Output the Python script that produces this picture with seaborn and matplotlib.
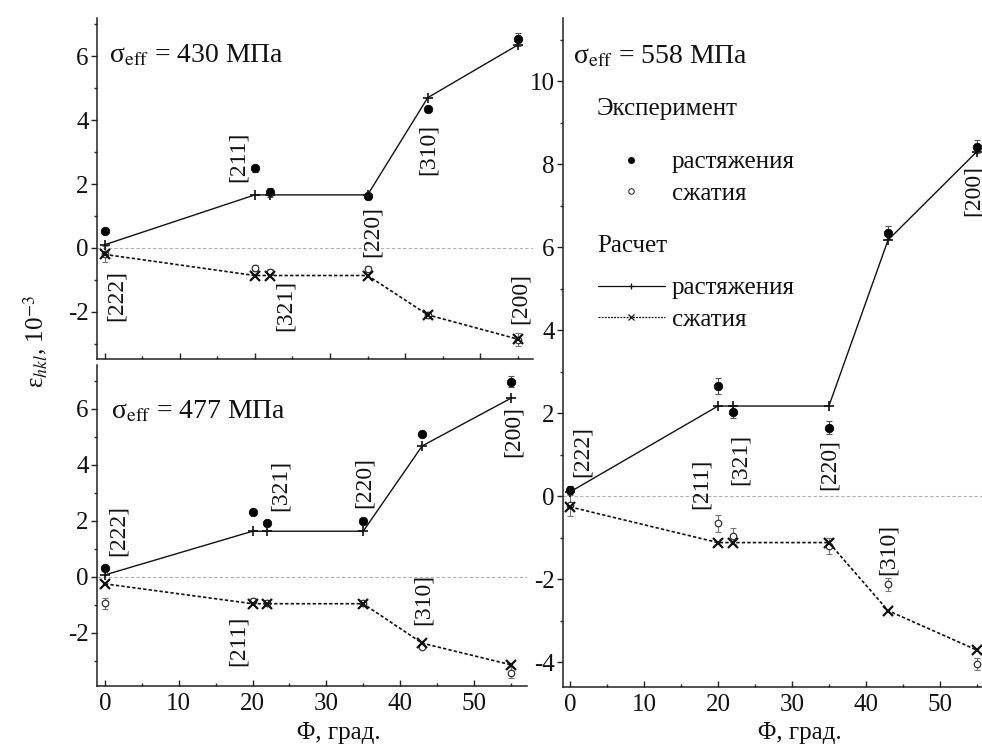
import matplotlib
matplotlib.use("Agg")
import matplotlib.pyplot as plt
from matplotlib.lines import Line2D
from matplotlib.ticker import MultipleLocator
import seaborn as sns

# Crystallographic directions and their angle to the load axis
phi = [0, 20, 22, 35, 43, 55]
hkl = ["[222]", "[211]", "[321]", "[220]", "[310]", "[200]"]

# sigma_eff = 430 MPa
exp_tension_430 = [0.53, 2.49, 1.74, 1.62, 4.34, 6.52]
exp_tension_err_430 = [0.10, 0.10, 0.15, 0.10, 0.10, 0.20]
exp_compr_430 = [-0.20, -0.63, -0.75, -0.66, -2.10, -2.87]
exp_compr_err_430 = [0.25, 0.10, 0.10, 0.10, 0.10, 0.20]
calc_tension_430 = [0.10, 1.66, 1.66, 1.66, 4.70, 6.35]
calc_compr_430 = [-0.20, -0.86, -0.86, -0.86, -2.09, -2.85]

# sigma_eff = 477 MPa
exp_tension_477 = [0.33, 2.31, 1.92, 2.00, 5.10, 6.98]
exp_tension_err_477 = [0.10, 0.10, 0.10, 0.10, 0.10, 0.20]
exp_compr_477 = [-0.94, -0.85, -0.94, -0.95, -2.49, -3.42]
exp_compr_err_477 = [0.20, 0.10, 0.10, 0.10, 0.10, 0.20]
calc_tension_477 = [0.07, 1.63, 1.63, 1.63, 4.68, 6.38]
calc_compr_477 = [-0.25, -0.96, -0.96, -0.96, -2.37, -3.14]

# sigma_eff = 558 MPa
exp_tension_558 = [0.14, 2.65, 2.03, 1.65, 6.35, 8.42]
exp_tension_err_558 = [0.10, 0.20, 0.15, 0.15, 0.15, 0.15]
exp_compr_558 = [-0.22, -0.66, -0.96, -1.20, -2.13, -4.05]
exp_compr_err_558 = [0.25, 0.20, 0.20, 0.20, 0.15, 0.15]
calc_tension_558 = [0.10, 2.17, 2.17, 2.17, 6.17, 8.30]
calc_compr_558 = [-0.26, -1.12, -1.12, -1.12, -2.76, -3.71]

stress_labels = ["430", "477", "558"]

SERIF = "Liberation Serif"
INK = "#111111"

sns.set_theme(style="ticks")
plt.rcParams.update({
    "font.family": [SERIF, "DejaVu Serif"],
    "mathtext.fontset": "stix",
    "axes.unicode_minus": False,
    "axes.linewidth": 1.1,
    "axes.edgecolor": "#222222",
    "xtick.direction": "in",
    "ytick.direction": "out",
    "xtick.major.size": 4.5,
    "xtick.minor.size": 2.5,
    "ytick.major.size": 4,
    "ytick.minor.size": 2.5,
    "xtick.major.width": 1.0,
    "ytick.major.width": 1.0,
    "xtick.minor.width": 1.0,
    "ytick.minor.width": 1.0,
    "xtick.labelsize": 18,
    "ytick.labelsize": 18,
    "xtick.major.pad": 5,
    "ytick.major.pad": 2,
    "xtick.color": "#222222",
    "ytick.color": "#222222",
})

W, H = 982, 745
fig = plt.figure(figsize=(W / 100, H / 100), dpi=100)


def px_axes(x0, y0, x1, y1):
    return fig.add_axes([x0 / W, 1 - y1 / H, (x1 - x0) / W, (y1 - y0) / H])


ax_a = px_axes(97, 18, 533, 359)
ax_b = px_axes(97, 365, 527, 686)
ax_c = px_axes(563, 18, 982, 687)

FS = 18


def draw_panel(ax, et, et_err, ec, ec_err, ct, cc, label_pos, stress, sigma_pos):
    ax.axhline(0, color="#b0b0b0", lw=0.8, ls=(0, (3, 2)), zorder=0)
    # experiment: error bars and points
    ax.errorbar(phi, et, yerr=et_err, fmt="none", ecolor="#555555",
                elinewidth=0.8, capsize=2.5, capthick=0.8, zorder=2)
    ax.errorbar(phi, ec, yerr=ec_err, fmt="none", ecolor="#777777",
                elinewidth=0.8, capsize=2.5, capthick=0.8, zorder=2)
    sns.scatterplot(x=phi, y=et, ax=ax, marker="o", s=38, color="black",
                    edgecolor="black", linewidth=0.5, zorder=3, legend=False)
    sns.scatterplot(x=phi, y=ec, ax=ax, marker="o", s=22, facecolor="white",
                    edgecolor="#333333", linewidth=0.9, zorder=3, legend=False)
    # calculation
    sns.lineplot(x=phi, y=ct, ax=ax, color=INK, lw=1.0, marker="+",
                 markersize=7.5, markeredgewidth=1.2, markeredgecolor=INK,
                 sort=False, estimator=None, zorder=4)
    sns.lineplot(x=phi, y=cc, ax=ax, color=INK, lw=1.2,
                 linestyle=(0, (2, 1.3)), marker="x", markersize=7.5,
                 markeredgewidth=1.6, markeredgecolor=INK,
                 sort=False, estimator=None, zorder=4)
    for lab, (lx, ly) in zip(hkl, label_pos):
        ax.text(lx, ly, lab, rotation=90, ha="center", va="center",
                fontsize=17, color=INK, clip_on=False)
    ax.text(sigma_pos[0], sigma_pos[1],
            "σ$_{\\mathrm{eff}}$" + f" = {stress} МПа",
            ha="left", va="center", fontsize=20, color=INK)

    sns.despine(ax=ax)
    ax.xaxis.set_major_locator(MultipleLocator(10))
    ax.xaxis.set_minor_locator(MultipleLocator(5))
    ax.yaxis.set_major_locator(MultipleLocator(2))
    ax.yaxis.set_minor_locator(MultipleLocator(1))
    ax.tick_params(labelfontfamily=SERIF, labelcolor=INK)
    ax.set_facecolor("white")


draw_panel(ax_a, exp_tension_430, exp_tension_err_430, exp_compr_430,
           exp_compr_err_430, calc_tension_430, calc_compr_430,
           [(1.6, -1.47), (17.8, 2.84), (24.1, -1.81), (35.6, 0.53),
            (43.0, 3.09), (55.3, -1.59)],
           stress_labels[0], (0.6, 6.0))
ax_a.set_xlim(-1.0, 57.0)
ax_a.set_ylim(-3.47, 7.19)
ax_a.tick_params(axis="x", labelbottom=False)

draw_panel(ax_b, exp_tension_477, exp_tension_err_477, exp_compr_477,
           exp_compr_err_477, calc_tension_477, calc_compr_477,
           [(1.76, 1.64), (18.0, -2.29), (23.7, 3.25), (35.2, 3.36),
            (43.1, -0.79), (55.3, 5.18)],
           stress_labels[1], (0.8, 5.9))
ax_b.set_xlim(-1.08, 57.2)
ax_b.set_ylim(-3.9, 7.57)

draw_panel(ax_c, exp_tension_558, exp_tension_err_558, exp_compr_558,
           exp_compr_err_558, calc_tension_558, calc_compr_558,
           [(1.6, 1.08), (17.8, 0.29), (23.0, 0.89), (35.1, 0.77),
            (43.0, -1.28), (54.5, 7.37)],
           stress_labels[2], (0.35, 10.6))
ax_c.set_xlim(-0.95, 55.7)
ax_c.set_ylim(-4.6, 11.52)

for ax, xc, yc in ((ax_b, 0.563, -0.112), (ax_c, 0.566, -0.053)):
    ax.set_xlabel("Φ, град.", fontsize=FS, color=INK)
    ax.xaxis.set_label_coords(xc, yc)

fig.text(0.036, 0.541, "ε$_{hkl}$, 10$^{-3}$", rotation=90,
         ha="center", va="center", fontsize=FS, color=INK)

# legend for the right panel
ax_c.text(0.081, 0.864, "Эксперимент", transform=ax_c.transAxes,
          ha="left", va="center", fontsize=FS, color=INK)
ax_c.text(0.081, 0.659, "Расчет", transform=ax_c.transAxes,
          ha="left", va="center", fontsize=FS, color=INK)
exp_handles = [
    Line2D([], [], ls="none", marker="o", markersize=4, color="black"),
    Line2D([], [], ls="none", marker="o", markersize=4, markerfacecolor="white",
           markeredgecolor="#333333", markeredgewidth=0.8),
]
calc_handles = [
    Line2D([], [], color=INK, lw=0.9, marker="+", markersize=5,
           markeredgewidth=0.9),
    Line2D([], [], color=INK, lw=0.9, ls=(0, (1.5, 1)), marker="x",
           markersize=4, markeredgewidth=0.9),
]
leg_kw = dict(frameon=False, fontsize=FS, handlelength=2.68,
              handletextpad=0.28, labelspacing=0.36, borderpad=0,
              borderaxespad=0, loc="upper left")
leg1 = ax_c.legend(exp_handles, ["растяжения", "сжатия"],
                   bbox_to_anchor=(0.0835, 0.8015), **leg_kw)
for t in leg1.get_texts():
    t.set_color(INK)
ax_c.add_artist(leg1)
leg2 = ax_c.legend(calc_handles, ["растяжения", "сжатия"],
                   bbox_to_anchor=(0.0835, 0.613), **leg_kw)
for t in leg2.get_texts():
    t.set_color(INK)

fig.savefig("out.png", dpi=100, facecolor="white")
